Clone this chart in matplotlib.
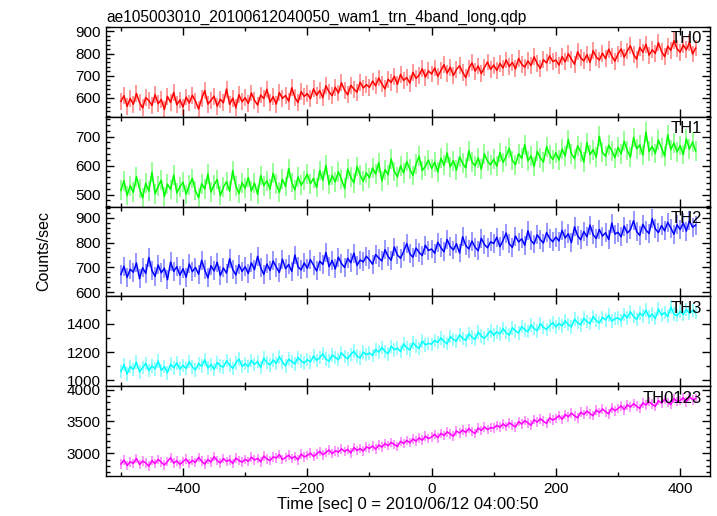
import numpy as np
import matplotlib
matplotlib.use("Agg")
import matplotlib.pyplot as plt
from matplotlib.ticker import MultipleLocator

plt.rcParams['font.family'] = ['Liberation Sans', 'DejaVu Sans']

# time bins (sec from 2010/06/12 04:00:50), 5 s wide
t_start = -500
t_step = 5

# count rates, one value per 5 s bin
th0 = [585, 610, 562, 598, 571, 620, 579, 555, 602, 588, 566, 615, 574, 593, 548, 607, 580, 625, 569, 591,
       559, 604, 577, 612, 586, 550, 597, 633, 572, 589, 608, 563, 594, 578, 640, 571, 599, 556, 614, 583,
       601, 575, 622, 590, 568, 613, 597, 639, 580, 606, 572, 624, 598, 611, 585, 646, 603, 579, 628, 607,
       619, 596, 641, 612, 633, 601, 655, 627, 610, 648, 622, 668, 635, 614, 657, 640, 626, 671, 645, 660,
       648, 676, 655, 690, 663, 641, 684, 670, 698, 661, 706, 679, 692, 667, 715, 688, 703, 731, 694, 722,
       708, 735, 697, 724, 750, 712, 739, 701, 728, 745, 716, 692, 733, 758, 721, 744, 710, 737, 762, 729,
       748, 724, 756, 735, 771, 742, 760, 731, 778, 752, 739, 767, 746, 785, 755, 733, 772, 758, 790, 764,
       771, 748, 786, 763, 799, 775, 752, 808, 781, 767, 795, 760, 813, 784, 771, 802, 777, 820, 789, 766,
       798, 821, 784, 812, 835, 796, 775, 828, 806, 842, 793, 817, 801, 849, 810, 786, 833, 815, 858, 822,
       806, 839, 817, 851, 798, 825]
th1 = [515, 548, 497, 531, 508, 562, 521, 489, 540, 512, 577, 503, 529, 550, 494, 536, 518, 568, 506, 527,
       543, 501, 532, 556, 514, 490, 538, 520, 571, 509, 534, 552, 497, 526, 545, 512, 583, 530, 504, 541,
       522, 559, 513, 540, 501, 566, 531, 548, 519, 574, 537, 508, 553, 528, 590, 542, 516, 561, 533, 549,
       571, 538, 556, 525, 583, 549, 601, 535, 566, 544, 579, 553, 522, 588, 560, 541, 597, 568, 546, 575,
       558, 592, 571, 610, 547, 586, 569, 623, 580, 561, 599, 575, 614, 588, 566, 605, 632, 583, 598, 619,
       590, 612, 578, 625, 601, 643, 596, 617, 584, 630, 608, 592, 651, 613, 599, 627, 588, 640, 615, 603,
       622, 598, 645, 611, 632, 660, 618, 603, 641, 625, 672, 616, 634, 597, 649, 627, 612, 665, 638, 621,
       644, 619, 657, 633, 690, 641, 624, 668, 647, 612, 679, 638, 655, 629, 701, 646, 632, 670, 651, 627,
       663, 640, 684, 652, 629, 697, 658, 671, 636, 715, 649, 666, 642, 688, 661, 633, 706, 655, 678, 647,
       669, 638, 692, 657, 681, 650]
th2 = [672, 705, 660, 693, 681, 718, 655, 699, 676, 740, 688, 664, 710, 679, 697, 651, 722, 684, 703, 669,
       695, 661, 714, 683, 700, 673, 729, 690, 658, 707, 686, 721, 668, 698, 677, 735, 692, 670, 711, 684,
       703, 676, 719, 691, 745, 699, 672, 714, 688, 726, 701, 680, 733, 695, 712, 684, 750, 703, 690, 718,
       697, 731, 709, 686, 725, 712, 760, 703, 728, 694, 741, 716, 700, 737, 719, 757, 708, 730, 722, 745,
       731, 713, 752, 738, 726, 771, 744, 729, 782, 750, 737, 764, 796, 755, 741, 778, 760, 748, 789, 768,
       774, 757, 801, 779, 763, 812, 784, 770, 795, 758, 823, 788, 774, 806, 781, 767, 817, 792, 779, 803,
       796, 821, 783, 809, 838, 795, 780, 826, 802, 815, 789, 847, 808, 794, 831, 812, 798, 840, 817, 803,
       822, 806, 849, 818, 835, 800, 863, 827, 811, 844, 823, 870, 831, 816, 852, 826, 839, 812, 878, 834,
       841, 823, 866, 838, 852, 887, 844, 829, 873, 850, 836, 895, 855, 840, 868, 847, 881, 858, 833, 871,
       852, 879, 846, 888, 861, 870]
th3 = [1062, 1110, 1043, 1097, 1075, 1128, 1058, 1090, 1119, 1067, 1102, 1081, 1135, 1070, 1096, 1052, 1114, 1088, 1123, 1079,
       1105, 1083, 1131, 1094, 1072, 1118, 1099, 1145, 1086, 1111, 1077, 1126, 1101, 1093, 1138, 1107, 1084, 1122, 1150, 1098,
       1117, 1096, 1140, 1112, 1131, 1090, 1156, 1124, 1108, 1143, 1119, 1166, 1128, 1102, 1149, 1133, 1115, 1160, 1137, 1121,
       1146, 1129, 1172, 1141, 1160, 1188, 1150, 1135, 1178, 1162, 1145, 1195, 1168, 1152, 1183, 1206, 1170, 1158, 1199, 1181,
       1193, 1176, 1218, 1199, 1232, 1205, 1187, 1240, 1216, 1228, 1203, 1258, 1230, 1214, 1266, 1241, 1225, 1278, 1250, 1262,
       1255, 1283, 1268, 1300, 1274, 1259, 1311, 1289, 1277, 1322, 1296, 1283, 1330, 1305, 1290, 1341, 1312, 1298, 1324, 1351,
       1319, 1343, 1328, 1366, 1337, 1320, 1372, 1350, 1335, 1381, 1358, 1344, 1393, 1366, 1351, 1402, 1375, 1360, 1388, 1409,
       1379, 1402, 1386, 1421, 1395, 1378, 1433, 1408, 1393, 1440, 1416, 1401, 1452, 1423, 1407, 1446, 1428, 1462, 1419, 1437,
       1441, 1424, 1468, 1443, 1485, 1452, 1431, 1476, 1457, 1498, 1448, 1469, 1437, 1505, 1462, 1480, 1451, 1519, 1470, 1458,
       1488, 1466, 1503, 1474, 1495, 1479]
th0123 = [2832, 2895, 2810, 2868, 2843, 2921, 2825, 2879, 2851, 2798, 2887, 2839, 2905, 2861, 2817, 2874, 2930, 2846, 2883, 2828,
          2869, 2912, 2841, 2890, 2858, 2937, 2876, 2831, 2903, 2864, 2948, 2885, 2850, 2919, 2873, 2898, 2842, 2926, 2889, 2861,
          2907, 2874, 2941, 2895, 2922, 2868, 2959, 2913, 2888, 2945, 2926, 2981, 2902, 2937, 2970, 2918, 2952, 2897, 2989, 2944,
          2966, 3004, 2951, 2992, 3031, 2978, 3015, 3052, 2995, 3040, 3019, 3071, 3028, 3063, 3006, 3089, 3047, 3075, 3036, 3102,
          3078, 3115, 3066, 3131, 3098, 3152, 3120, 3171, 3139, 3108, 3189, 3154, 3202, 3167, 3226, 3190, 3243, 3205, 3268, 3231,
          3257, 3298, 3244, 3312, 3279, 3336, 3301, 3268, 3350, 3318, 3365, 3327, 3388, 3342, 3311, 3396, 3360, 3414, 3373, 3402,
          3395, 3438, 3410, 3462, 3421, 3479, 3445, 3412, 3497, 3458, 3513, 3476, 3440, 3528, 3489, 3542, 3503, 3468, 3557, 3520,
          3548, 3591, 3532, 3610, 3573, 3629, 3588, 3556, 3644, 3607, 3662, 3621, 3590, 3678, 3639, 3696, 3652, 3619, 3711, 3668,
          3702, 3745, 3683, 3761, 3724, 3779, 3738, 3705, 3792, 3757, 3810, 3769, 3736, 3825, 3787, 3846, 3798, 3764, 3859, 3812,
          3828, 3871, 3805, 3889, 3840, 3858]

# 1-sigma errors per band (counts/sec)
errors = [38, 34, 38, 48, 75]
bands = ["TH0", "TH1", "TH2", "TH3", "TH0123"]
series = [th0, th1, th2, th3, th0123]
colors = ["#ff0000", "#00ff00", "#0000ff", "#00ffff", "#ff00ff"]

ylims = [(515, 920), (459, 768), (584, 944), (957, 1595), (2645, 4052)]
ymajor = [100, 100, 100, 200, 500]
yminor = [20, 20, 20, 100, 100]

fig, axes = plt.subplots(5, 1, sharex=True, figsize=(7.17, 5.16), dpi=100)
fig.subplots_adjust(left=0.1478, right=0.9902, top=0.9477, bottom=0.0775, hspace=0)

for i, ax in enumerate(axes):
    y = np.array(series[i])
    t = t_start + t_step * np.arange(len(y))
    # light error bars underneath, saturated line on top
    ax.errorbar(t, y, yerr=errors[i], fmt='none', ecolor=colors[i], elinewidth=1.4,
                alpha=0.4, capsize=0)
    ax.plot(t, y, '-', color=colors[i], lw=1.1)
    ax.set_ylim(ylims[i])
    ax.yaxis.set_major_locator(MultipleLocator(ymajor[i]))
    ax.yaxis.set_minor_locator(MultipleLocator(yminor[i]))
    ax.xaxis.set_major_locator(MultipleLocator(200))
    ax.xaxis.set_minor_locator(MultipleLocator(100))
    ax.tick_params(which='both', direction='in', top=True, right=True, labelsize=11,
                   width=1, pad=4)
    ax.tick_params(which='major', length=6)
    ax.tick_params(which='minor', length=3)
    for sp in ax.spines.values():
        sp.set_linewidth(1)
    ax.text(0.987, 0.95, bands[i], transform=ax.transAxes, ha='right', va='top', fontsize=12)

axes[0].set_xlim(-524, 448)
axes[0].set_title("ae105003010_20100612040050_wam1_trn_4band_long.qdp", loc='left', fontsize=11.2, pad=4)
axes[-1].set_xlabel("Time [sec] 0 = 2010/06/12 04:00:50", fontsize=12, labelpad=1)
fig.text(44 / 717, 1 - 251 / 516, "Counts/sec", rotation=90, ha='center', va='center', fontsize=11.5)

fig.savefig("out.png", dpi=100)
